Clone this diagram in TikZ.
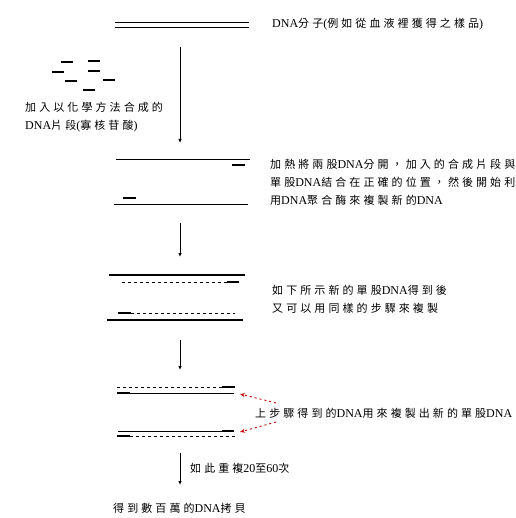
\documentclass[tikz,border=0pt]{standalone}
\usepackage{fontspec}
\setmainfont{Liberation Serif}
\newfontfamily\zhfont[LetterSpace=28]{Noto Sans CJK TC}
\newcommand{\zh}[1]{{\zhfont\fontsize{11}{18}\selectfont #1}}
\usetikzlibrary{arrows.meta}
\begin{document}
\begin{tikzpicture}[x=1pt,y=-1pt,
  thinstrand/.style={line width=0.8pt},
  thickstrand/.style={line width=1.6pt},
  frag/.style={line width=2.6pt},
  newstrand/.style={line width=0.8pt,dash pattern=on 3pt off 3pt},
  flow/.style={line width=0.9pt,-{Latex[length=4pt,width=3.5pt]}},
  note/.style={anchor=west,inner sep=0pt,align=left,font=\fontsize{12}{18}\selectfont},
  hint/.style={red!80!black,line width=0.9pt,dash pattern=on 2pt off 3pt,-{Stealth[length=5pt,width=4pt]}}]
\useasboundingbox (0,0) rectangle (515,518);
% step 1: double-stranded DNA
\draw[thinstrand] (115,22) -- (249,22);
\draw[thinstrand] (115,27) -- (249,27);
\node[note] (t1) at (272,24) {DNA\zh{分子}(\zh{例如從血液裡獲得之樣品})};
% primers
\draw[frag] (61,62) -- (73,62);
\draw[frag] (88,61) -- (100,61);
\draw[frag] (52,72) -- (64,72);
\draw[frag] (88,71) -- (100,71);
\draw[frag] (65,81) -- (77,81);
\draw[frag] (103,80) -- (115,80);
\draw[frag] (83,90) -- (95,90);
\node[note] (t2) at (25,117) {\zh{加入以化學方法合成的}\\DNA\zh{片段}(\zh{寡核苷酸})};
% arrow 1
\coordinate (a1s) at (180,47);
\coordinate (a1e) at (180,143);
\draw[flow] (a1s) -- (a1e);
% step 2
\draw[thinstrand] (116,159) -- (250,159);
\draw[frag] (232,165) -- (245,165);
\draw[frag] (123,198) -- (136,198);
\draw[thinstrand] (114,204) -- (248,204);
\node[note] (t3) at (270,182) {\zh{加熱將兩股}DNA\zh{分開，加入的合成片段與}\\\zh{單股}DNA\zh{結合在正確的位置，然後開始利}\\\zh{用}DNA\zh{聚合酶來複製新的}DNA};
% arrow 2
\coordinate (a2s) at (180,223);
\coordinate (a2e) at (180,257);
\draw[flow] (a2s) -- (a2e);
% step 3
\draw[thickstrand] (109,275) -- (245,275);
\draw[newstrand] (122,282) -- (227,282);
\draw[frag] (227,282) -- (239,282);
\draw[frag] (118,313) -- (131,313);
\draw[newstrand] (131,313) -- (235,313);
\draw[thickstrand] (107,320) -- (243,320);
\node[note] (t4) at (272,299) {\zh{如下所示新的單股}DNA\zh{得到後}\\\zh{又可以用同樣的步驟來複製}};
% arrow 3
\coordinate (a3s) at (180,340);
\coordinate (a3e) at (180,370);
\draw[flow] (a3s) -- (a3e);
% step 4
\draw[newstrand] (117,387) -- (222,387);
\draw[frag] (222,387) -- (235,387);
\draw[frag] (117,393) -- (130,393);
\draw[thinstrand] (130,393) -- (234,393);
\draw[thinstrand] (118,431) -- (222,431);
\draw[frag] (222,431) -- (234,431);
\draw[frag] (117,436) -- (130,436);
\draw[newstrand] (130,436) -- (235,436);
\node[note] (t5) at (255,413) {\zh{上步驟得到的}DNA\zh{用來複製出新的單股}DNA};
\coordinate (r1s) at (276,403);
\coordinate (r1e) at (240,394);
\coordinate (r2s) at (276,422);
\coordinate (r2e) at (240,432);
\draw[hint] (r1s) -- (r1e);
\draw[hint] (r2s) -- (r2e);
% arrow 4
\coordinate (a4s) at (180,453);
\coordinate (a4e) at (180,485);
\draw[flow] (a4s) -- (a4e);
\node[note] (t6) at (190,468) {\zh{如此重複}20\zh{至}60\zh{次}};
\node[note] (t7) at (113,508) {\zh{得到數百萬的}DNA\zh{拷貝}};
\end{tikzpicture}
\end{document}
